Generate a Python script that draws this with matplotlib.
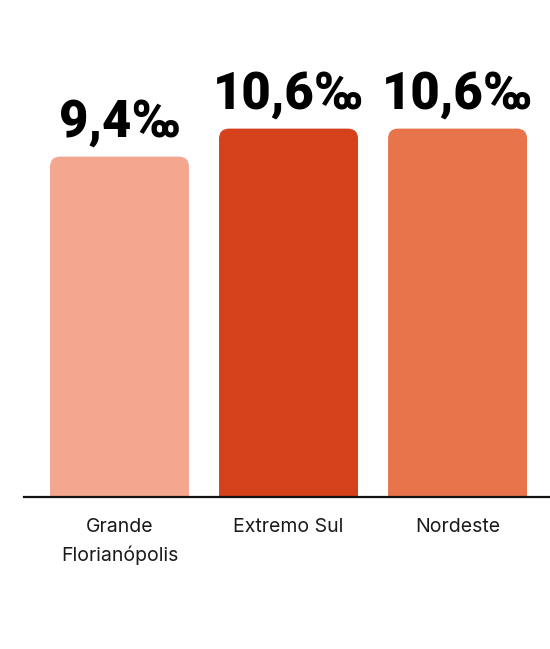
import numpy as np
import matplotlib
matplotlib.use("Agg")
import matplotlib.pyplot as plt
from matplotlib.patches import FancyBboxPatch

# data
regions = ["Grande\nFlorianópolis", "Extremo Sul", "Nordeste"]
rates = [9.4, 10.6, 10.6]
value_labels = ["9,4‰", "10,6‰", "10,6‰"]
colors = ["#F4A78F", "#D4411B", "#E8744B"]

plt.rcParams["font.family"] = ["Inter", "DejaVu Sans"]

fig = plt.figure(figsize=(5.5, 6.49), dpi=100)
# axes spans from the left end of the baseline to the right edge, bottom at the baseline
ax = fig.add_axes([24 / 550, 152 / 649, 526 / 550, 497 / 649])

y0 = -5.19  # value at the baseline (bars are not zero based in the source)
ax.set_xlim(-0.565, 2.547)
ax.set_ylim(y0, y0 + 497 / 23.33)

width = 0.822
rx = 10 / 169.0
ry = 10 / 23.33
x = np.arange(len(regions))
for xi, v, c in zip(x, rates, colors):
    # extend the box below the baseline so only the top corners look rounded
    p = FancyBboxPatch((xi - width / 2, y0 - 2), width, v - y0 + 2,
                       boxstyle="round,pad=0,rounding_size=%f" % rx,
                       mutation_aspect=ry / rx, fc=c, ec="none", clip_on=True)
    ax.add_patch(p)
    ax.annotate(value_labels[xi], (xi, v), xytext=(0, 14.4),
                textcoords="offset points", ha="center", va="baseline",
                fontsize=36.5, fontweight="black", color="black",
                family=["Roboto", "DejaVu Sans"])

for side in ["top", "right", "left"]:
    ax.spines[side].set_visible(False)
ax.spines["bottom"].set_linewidth(1.6)
ax.spines["bottom"].set_color("#111111")
ax.set_yticks([])
ax.set_xticks(x)
ax.set_xticklabels(regions, fontsize=14, color="#1a1a1a", linespacing=1.6)
ax.tick_params(axis="x", length=0, pad=15)

fig.savefig("out.png", dpi=100)
